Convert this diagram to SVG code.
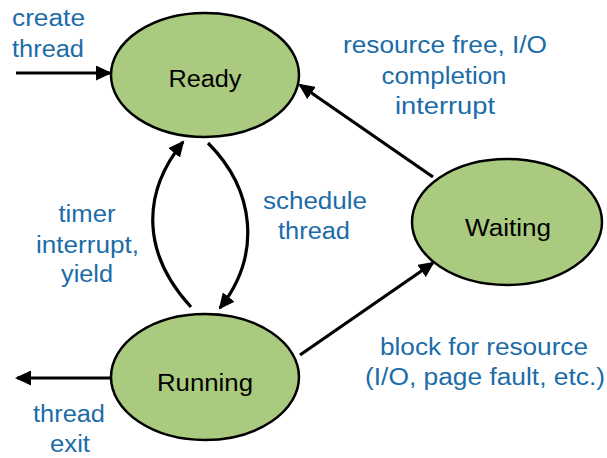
<svg xmlns="http://www.w3.org/2000/svg" width="607" height="458" viewBox="0 0 607 458">
<style>
.node{fill:#aacb7f;stroke:#000;stroke-width:2.5}
.nt{font-family:"Liberation Sans",Arial,sans-serif;font-size:23px;fill:#000;text-anchor:middle}
.lb{font-family:"Liberation Sans",Arial,sans-serif;font-size:23px;fill:#1b6ca8;text-anchor:middle}
.lbl{font-family:"Liberation Sans",Arial,sans-serif;font-size:23px;fill:#1b6ca8}
.edge{fill:none;stroke:#000;stroke-width:3.2}
</style>
<defs>
<marker id="ah" markerUnits="userSpaceOnUse" markerWidth="17" markerHeight="15" refX="14" refY="7.5" orient="auto">
<path d="M0,0 L16,7.5 L0,15 z" fill="#000"/>
</marker>
</defs>
<rect width="607" height="458" fill="#fff"/>
<g id="connectors">
<path class="edge" d="M16,73 L110,73" marker-end="url(#ah)"/>
<path class="edge" d="M110,378 L17,378" marker-end="url(#ah)"/>
<path class="edge" d="M191,307 C143,255 140,195 183,142" marker-end="url(#ah)"/>
<path class="edge" d="M208,143 C255,190 262,255 220,308" marker-end="url(#ah)"/>
<path class="edge" d="M433,177 L300,85" marker-end="url(#ah)"/>
<path class="edge" d="M300,355 L433,263" marker-end="url(#ah)"/>
</g>
<g id="ready">
<ellipse class="node" cx="205" cy="75" rx="94" ry="62"/>
<text class="nt" x="205" y="87" textLength="73" lengthAdjust="spacingAndGlyphs">Ready</text>
</g>
<g id="running">
<ellipse class="node" cx="205" cy="377" rx="94" ry="63"/>
<text class="nt" x="205" y="391" textLength="96" lengthAdjust="spacingAndGlyphs">Running</text>
</g>
<g id="waiting">
<ellipse class="node" cx="507" cy="222" rx="95" ry="63"/>
<text class="nt" x="508" y="236" textLength="86" lengthAdjust="spacingAndGlyphs">Waiting</text>
</g>
<g id="labels">
<text class="lbl" x="12" y="26" textLength="73" lengthAdjust="spacingAndGlyphs">create</text>
<text class="lbl" x="12" y="57" textLength="72" lengthAdjust="spacingAndGlyphs">thread</text>
<text class="lb" x="445" y="53" textLength="204" lengthAdjust="spacingAndGlyphs">resource free, I/O</text>
<text class="lb" x="444" y="84" textLength="125" lengthAdjust="spacingAndGlyphs">completion</text>
<text class="lb" x="445" y="114" textLength="100" lengthAdjust="spacingAndGlyphs">interrupt</text>
<text class="lb" x="315" y="209" textLength="104" lengthAdjust="spacingAndGlyphs">schedule</text>
<text class="lb" x="314" y="239" textLength="72" lengthAdjust="spacingAndGlyphs">thread</text>
<text class="lb" x="87" y="222" textLength="57" lengthAdjust="spacingAndGlyphs">timer</text>
<text class="lb" x="87.5" y="253" textLength="103" lengthAdjust="spacingAndGlyphs">interrupt,</text>
<text class="lb" x="87" y="282" textLength="52" lengthAdjust="spacingAndGlyphs">yield</text>
<text class="lb" x="484" y="355" textLength="208" lengthAdjust="spacingAndGlyphs">block for resource</text>
<text class="lb" x="485" y="385" textLength="240" lengthAdjust="spacingAndGlyphs">(I/O, page fault, etc.)</text>
<text class="lb" x="69" y="422" textLength="72" lengthAdjust="spacingAndGlyphs">thread</text>
<text class="lb" x="70" y="452" textLength="40" lengthAdjust="spacingAndGlyphs">exit</text>
</g>
</svg>
